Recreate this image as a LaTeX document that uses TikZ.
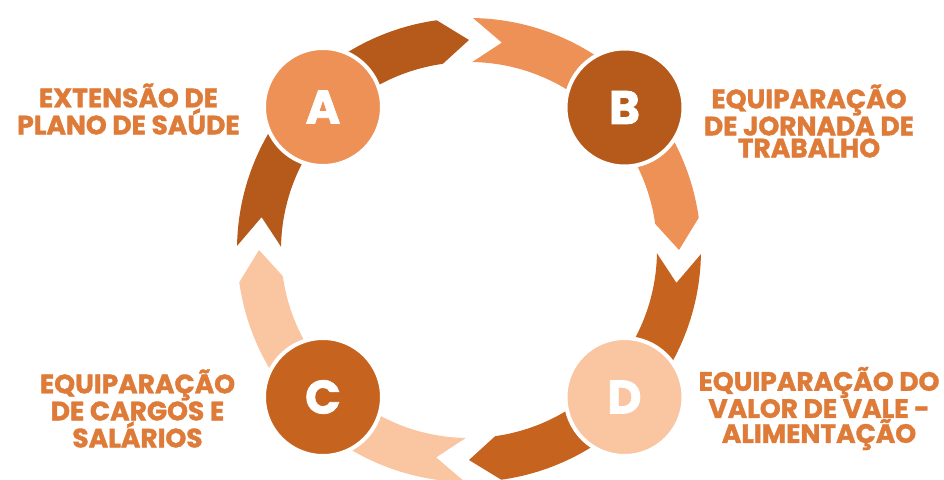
\documentclass[tikz,border=0pt]{standalone}
\usepackage{fontspec}
\setmainfont{Poppins}
\newfontfamily\heavyfont{Poppins}[UprightFont=* Bold,FakeBold=1.5]
\usepackage{tikz}
\usetikzlibrary{calc}
\definecolor{rust}{HTML}{B65A1C}
\definecolor{copper}{HTML}{C6641F}
\definecolor{apricot}{HTML}{EE9157}
\definecolor{peach}{HTML}{FAC6A1}
\definecolor{labelorange}{HTML}{DF7B38}
\begin{document}
\begin{tikzpicture}[x=1pt,y=1pt,
  stage/.style={circle,draw=white,line width=4pt,minimum size=118pt,inner sep=0pt,text=white,font=\heavyfont\fontsize{47}{47}\selectfont},
  caption/.style={align=center,text=labelorange,inner sep=0pt,font=\heavyfont\fontsize{26.5}{22}\selectfont}]
\useasboundingbox (-469,-229) rectangle (475,250);
\fill[rust] (179:232pt) -- (171:210pt) -- (179:188pt) arc[start angle=179,end angle=98,radius=188pt] -- (90:210pt) -- (98:232pt) arc[start angle=98,end angle=179,radius=232pt] -- cycle;
\fill[apricot] (89:232pt) -- (81:210pt) -- (89:188pt) arc[start angle=89,end angle=8,radius=188pt] -- (0:210pt) -- (8:232pt) arc[start angle=8,end angle=89,radius=232pt] -- cycle;
\fill[copper] (-1:232pt) -- (-9:210pt) -- (-1:188pt) arc[start angle=-1,end angle=-82,radius=188pt] -- (-90:210pt) -- (-82:232pt) arc[start angle=-82,end angle=-1,radius=232pt] -- cycle;
\fill[peach] (-91:232pt) -- (-99:210pt) -- (-91:188pt) arc[start angle=-91,end angle=-172,radius=188pt] -- (-180:210pt) -- (-172:232pt) arc[start angle=-172,end angle=-91,radius=232pt] -- cycle;
\node[stage,fill=apricot] (A) at (-146,143) {A};
\node[stage,fill=rust] (B) at (155.5,142.5) {B};
\node[stage,fill=copper] (C) at (-146,-147) {C};
\node[stage,fill=peach] (D) at (155.5,-147) {D};
\node[caption] (labelA) at (-340.5,141) {EXTENSÃO DE\\PLANO DE SAÚDE};
\node[caption] (labelB) at (340,129) {EQUIPARAÇÃO\\DE JORNADA DE\\TRABALHO};
\node[caption] (labelC) at (-331.5,-158.5) {EQUIPARAÇÃO\\DE CARGOS E\\SALÁRIOS};
\node[caption] (labelD) at (350,-158.5) {EQUIPARAÇÃO DO\\VALOR DE VALE -\\ALIMENTAÇÃO};
\end{tikzpicture}
\end{document}
